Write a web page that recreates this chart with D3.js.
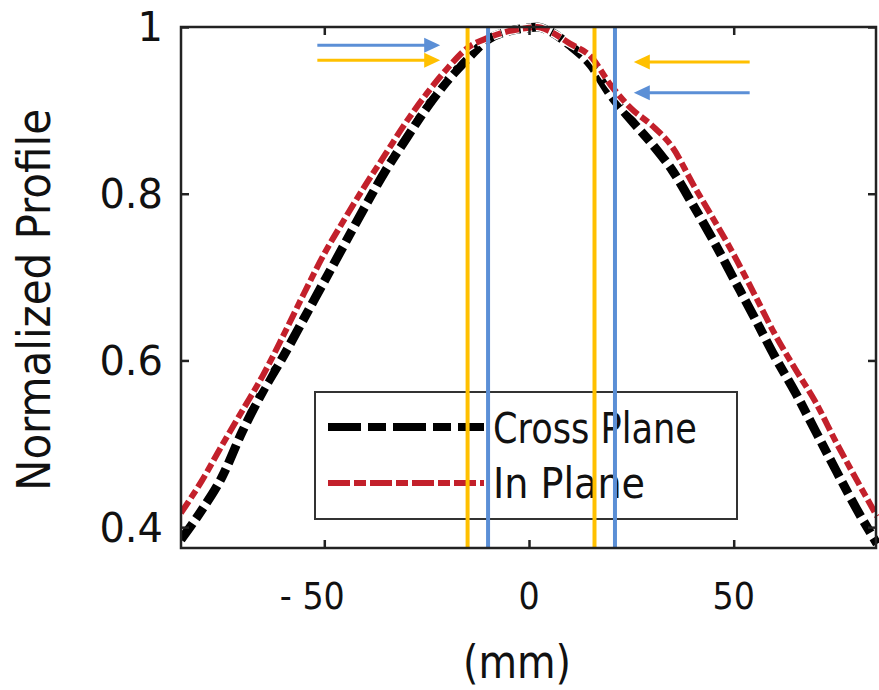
<!DOCTYPE html>
<html>
<head>
<meta charset="utf-8">
<script src="https://cdn.jsdelivr.net/npm/d3@7"></script>
<style>
  body { margin: 0; background: #fff; }
  svg { display: block; }
</style>
</head>
<body>
<svg class="chart"></svg>
<script>
// positions in mm
const positions = [-85, -80, -75, -70, -65, -60, -55, -50, -45, -40, -35, -30, -25, -20, -15, -10, -5, 0, 2, 5, 10, 15, 20, 25, 30, 35, 40, 45, 50, 55, 60, 65, 70, 75, 80, 85];
const crossPlane = [0.385, 0.420, 0.460, 0.515, 0.563, 0.605, 0.650, 0.695, 0.740, 0.785, 0.828, 0.866, 0.903, 0.935, 0.962, 0.985, 0.995, 0.999, 1.000, 0.995, 0.978, 0.955, 0.918, 0.888, 0.860, 0.828, 0.787, 0.744, 0.698, 0.652, 0.605, 0.562, 0.515, 0.468, 0.422, 0.380];
const inPlane = [0.417, 0.455, 0.498, 0.540, 0.582, 0.630, 0.680, 0.728, 0.770, 0.810, 0.848, 0.886, 0.920, 0.950, 0.975, 0.987, 0.995, 0.999, 1.000, 0.995, 0.980, 0.965, 0.930, 0.902, 0.882, 0.856, 0.812, 0.770, 0.727, 0.680, 0.632, 0.590, 0.550, 0.502, 0.457, 0.413];

const xTicks = [-50, 0, 50];
const xTickLabels = ['- 50', '0', '50'];
const yTicks = [0.4, 0.6, 0.8, 1];
const yTickLabels = ['0.4', '0.6', '0.8', '1'];

// marker lines (mm) and arrows [from mm, to mm, level]
const markerX = [-15, -10, 16, 21];
const markerColor = ['yellow', 'blue', 'yellow', 'blue'];
const arrowFrom = [-51.7, -51.7, 53.9, 53.9];
const arrowTo = [-21.7, -21.7, 25.6, 25.6];
const arrowLevel = [0.978, 0.960, 0.958, 0.921];
const arrowColor = ['blue', 'yellow', 'yellow', 'blue'];

const colors = {yellow: '#ffc000', blue: '#5b8fd6'};

const width = 879;
const height = 690;
const margin = {top: 27, right: 2, bottom: 142, left: 181};

const svg = d3.select('.chart').attr('width', width).attr('height', height);

const x = d3.scaleLinear().domain([-85, 85]).range([margin.left, width - margin.right]);
const y = d3.scaleLinear().domain([0.375, 1]).range([height - margin.bottom, margin.top]);

const plotL = x.range()[0], plotR = x.range()[1];
const plotT = y.range()[1], plotB = y.range()[0];

const condensed = 'DejaVu Sans Condensed, DejaVu Sans, sans-serif';

// curves
const line = d3.line()
  .x((d) => x(d[0]))
  .y((d) => y(d[1]))
  .curve(d3.curveMonotoneX);

const crossData = positions.map((p, i) => [p, crossPlane[i]]);
const inData = positions.map((p, i) => [p, inPlane[i]]);

svg.append('clipPath').attr('id', 'plot')
  .append('rect')
  .attr('x', plotL).attr('y', plotT - 6)
  .attr('width', plotR - plotL + 4).attr('height', plotB - plotT + 6);

const curves = svg.append('g').attr('clip-path', 'url(#plot)');

curves.append('path')
  .attr('d', line(crossData))
  .attr('fill', 'none')
  .attr('stroke', '#000')
  .attr('stroke-width', 9)
  .attr('stroke-dasharray', '20,6,13,6');

curves.append('path')
  .attr('d', line(inData))
  .attr('fill', 'none')
  .attr('stroke', '#fff')
  .attr('stroke-width', 8.5)
  .attr('stroke-dasharray', '14,4,9,4');

curves.append('path')
  .attr('d', line(inData))
  .attr('fill', 'none')
  .attr('stroke', '#c3202b')
  .attr('stroke-width', 6)
  .attr('stroke-dasharray', '14,4,9,4');

// legend
const lg = svg.append('g');
lg.append('rect')
  .attr('x', 315).attr('y', 392)
  .attr('width', 422).attr('height', 127)
  .attr('fill', '#fff')
  .attr('stroke', '#333')
  .attr('stroke-width', 2);

lg.append('line')
  .attr('x1', 328).attr('x2', 484).attr('y1', 427).attr('y2', 427)
  .attr('stroke', '#000').attr('stroke-width', 8)
  .attr('stroke-dasharray', '33,7,18,7');

lg.append('line')
  .attr('x1', 328).attr('x2', 484).attr('y1', 483).attr('y2', 483)
  .attr('stroke', '#c3202b').attr('stroke-width', 6)
  .attr('stroke-dasharray', '22,4,12,4');

lg.append('text')
  .attr('x', 493).attr('y', 443)
  .attr('font-family', condensed).attr('font-size', 42)
  .attr('textLength', 204).attr('lengthAdjust', 'spacingAndGlyphs')
  .attr('fill', '#111')
  .text('Cross Plane');

lg.append('text')
  .attr('x', 493).attr('y', 498)
  .attr('font-family', condensed).attr('font-size', 42)
  .attr('textLength', 152).attr('lengthAdjust', 'spacingAndGlyphs')
  .attr('fill', '#111')
  .text('In Plane');

// vertical marker lines
svg.append('g').selectAll('line')
  .data(markerX)
  .join('line')
  .attr('x1', (d) => x(d)).attr('x2', (d) => x(d))
  .attr('y1', plotT).attr('y2', plotB)
  .attr('stroke', (d, i) => colors[markerColor[i]])
  .attr('stroke-width', 4);

// arrows
const arrows = svg.append('g');
arrowFrom.forEach((f, i) => {
  const x0 = x(f), x1 = x(arrowTo[i]), yy = y(arrowLevel[i]);
  const dir = x1 > x0 ? 1 : -1;
  const head = 16;
  arrows.append('line')
    .attr('x1', x0).attr('x2', x1 - dir * head + dir * 2)
    .attr('y1', yy).attr('y2', yy)
    .attr('stroke', colors[arrowColor[i]])
    .attr('stroke-width', 3);
  arrows.append('path')
    .attr('d', 'M' + x1 + ',' + yy + 'L' + (x1 - dir * head) + ',' + (yy - 7.5) + 'L' + (x1 - dir * head) + ',' + (yy + 7.5) + 'Z')
    .attr('fill', colors[arrowColor[i]]);
});

// frame
svg.append('rect')
  .attr('x', plotL).attr('y', plotT)
  .attr('width', plotR - plotL - 1).attr('height', plotB - plotT)
  .attr('fill', 'none')
  .attr('stroke', '#222')
  .attr('stroke-width', 2.5);

// axes
const xAxisB = d3.axisBottom(x).tickValues(xTicks).tickSize(-8).tickFormat('');
const xAxisT = d3.axisTop(x).tickValues(xTicks).tickSize(-8).tickFormat('');
const yAxisL = d3.axisLeft(y).tickValues(yTicks).tickSize(-8).tickFormat('');
const yAxisR = d3.axisRight(y).tickValues(yTicks).tickSize(-8).tickFormat('');

[[xAxisB, 'translate(0,' + plotB + ')'], [xAxisT, 'translate(0,' + plotT + ')'],
 [yAxisL, 'translate(' + plotL + ',0)'], [yAxisR, 'translate(' + (plotR - 1) + ',0)']].forEach(([ax, tr]) => {
  const g = svg.append('g').attr('transform', tr).call(ax);
  g.select('.domain').remove();
  g.selectAll('.tick line').attr('stroke', '#222').attr('stroke-width', 2.5);
});

// tick labels
svg.append('g').selectAll('text')
  .data(xTicks)
  .join('text')
  .attr('x', (d) => x(d) + (d < 0 ? -12 : 0))
  .attr('y', 609)
  .attr('text-anchor', 'middle')
  .attr('font-family', condensed)
  .attr('font-size', 37)
  .attr('fill', '#111')
  .text((d, i) => xTickLabels[i]);

svg.append('g').selectAll('text')
  .data(yTicks)
  .join('text')
  .attr('x', 163)
  .attr('y', (d) => y(d))
  .attr('dy', '0.36em')
  .attr('text-anchor', 'end')
  .attr('font-family', 'DejaVu Sans, sans-serif')
  .attr('font-size', 40)
  .attr('fill', '#111')
  .text((d, i) => yTickLabels[i]);

// axis titles
svg.append('text')
  .attr('x', 517).attr('y', 678)
  .attr('text-anchor', 'middle')
  .attr('font-family', condensed)
  .attr('font-size', 46)
  .attr('textLength', 108).attr('lengthAdjust', 'spacingAndGlyphs')
  .attr('fill', '#111')
  .text('(mm)');

svg.append('text')
  .attr('transform', 'translate(50,300) rotate(-90)')
  .attr('text-anchor', 'middle')
  .attr('font-family', condensed)
  .attr('font-size', 46)
  .attr('textLength', 382).attr('lengthAdjust', 'spacingAndGlyphs')
  .attr('fill', '#111')
  .text('Normalized Profile');
</script>
</body>
</html>
